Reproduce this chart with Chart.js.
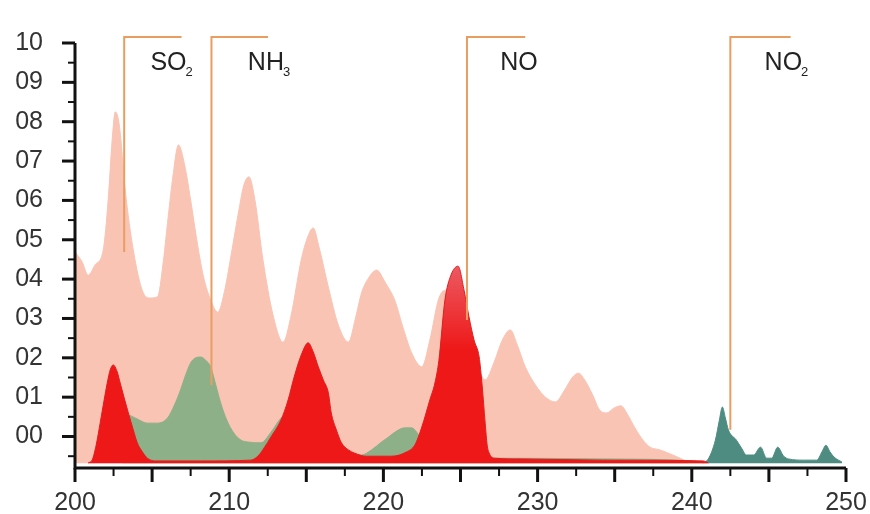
<!DOCTYPE html>
<html>
<head>
<meta charset="utf-8">
<script src="https://cdn.jsdelivr.net/npm/chart.js@4.4.1/dist/chart.umd.min.js"></script>
<style>
  html, body { margin: 0; padding: 0; background: #fff; }
  #wrap { width: 870px; height: 514px; }
</style>
</head>
<body>
<div id="wrap"><canvas id="chart"></canvas></div>
<script>
// wavelength (nm) / absorbance
const so2X = [200.0, 200.46, 200.85, 201.30, 201.83, 202.15, 202.41, 202.61, 202.87, 203.26, 203.78, 204.43, 204.89, 205.35, 205.74, 206.00, 206.32, 206.71, 207.11, 207.50, 207.95, 208.34, 208.80, 209.26, 209.71, 210.10, 210.63, 210.95, 211.28, 211.67, 212.19, 212.84, 213.49, 214.02, 214.67, 215.06, 215.45, 215.84, 216.43, 217.08, 217.73, 218.19, 218.58, 219.04, 219.56, 220.14, 220.73, 221.32, 221.84, 222.49, 223.01, 223.60, 224.12, 224.77, 225.42, 226.08, 226.60, 227.18, 227.71, 228.23, 228.68, 229.20, 229.86, 230.51, 231.16, 231.75, 232.27, 232.66, 233.05, 233.57, 234.03, 234.49, 234.94, 235.40, 235.85, 236.31, 236.83, 237.29, 237.94, 238.59, 239.24, 239.77];
const so2Y = [4.69, 4.44, 4.10, 4.36, 4.74, 6.01, 7.54, 8.25, 7.92, 6.26, 4.74, 3.65, 3.52, 3.55, 4.49, 5.43, 6.52, 7.41, 6.90, 6.01, 4.87, 4.05, 3.47, 3.16, 3.72, 4.56, 5.76, 6.39, 6.60, 6.01, 4.49, 3.09, 2.40, 3.09, 4.49, 5.04, 5.30, 4.79, 3.80, 2.83, 2.40, 3.01, 3.65, 4.03, 4.23, 3.90, 3.47, 2.71, 2.12, 1.77, 2.45, 3.52, 3.72, 3.47, 2.71, 1.82, 1.44, 1.89, 2.45, 2.71, 2.33, 1.77, 1.31, 1.00, 0.88, 1.18, 1.51, 1.61, 1.44, 1.06, 0.67, 0.60, 0.72, 0.78, 0.55, 0.22, -0.09, -0.27, -0.34, -0.44, -0.55, -0.65];

const nh3X = [203.06, 203.39, 203.91, 204.69, 205.35, 206.00, 206.45, 206.84, 207.17, 207.50, 207.82, 208.15, 208.47, 208.80, 209.13, 209.45, 209.84, 210.30, 210.76, 211.21, 212.06, 212.71, 213.36, 214.02, 214.67, 215.97, 217.28, 217.93, 218.58, 219.23, 219.88, 220.34, 220.86, 221.38, 221.84, 222.16, 222.49, 223.14, 223.79, 227.05, 234.22, 240.09, 240.74];
const nh3Y = [-0.09, 0.55, 0.47, 0.34, 0.34, 0.47, 0.80, 1.18, 1.56, 1.87, 2.00, 2.02, 1.94, 1.77, 1.31, 0.85, 0.42, 0.09, -0.09, -0.14, -0.16, 0.11, 0.47, 0.67, 0.42, -0.09, -0.39, -0.47, -0.47, -0.34, -0.14, -0.01, 0.14, 0.22, 0.22, 0.11, -0.09, -0.47, -0.60, -0.55, -0.57, -0.62, -0.67];

const noX = [200.85, 201.11, 201.37, 201.63, 201.89, 202.09, 202.28, 202.48, 202.74, 202.93, 203.19, 203.46, 203.78, 204.04, 204.37, 204.69, 205.22, 208.15, 211.41, 211.93, 212.26, 212.71, 213.36, 213.82, 214.21, 214.67, 215.12, 215.45, 215.78, 216.10, 216.43, 216.62, 216.95, 217.28, 217.73, 218.12, 218.90, 220.53, 221.51, 222.03, 222.49, 223.01, 223.34, 223.60, 223.99, 224.38, 224.84, 225.23, 225.55, 225.88, 226.21, 226.40, 226.60, 226.73, 226.86, 227.18, 229.01, 234.22, 240.74, 241.07];
const noY = [-0.67, -0.60, -0.22, 0.34, 0.93, 1.36, 1.69, 1.82, 1.64, 1.36, 0.98, 0.60, 0.17, -0.16, -0.39, -0.55, -0.62, -0.62, -0.60, -0.47, -0.29, -0.01, 0.42, 0.93, 1.51, 2.07, 2.38, 2.15, 1.77, 1.44, 1.11, 0.60, 0.17, -0.16, -0.34, -0.42, -0.50, -0.50, -0.39, -0.22, 0.24, 0.93, 1.36, 1.94, 3.47, 4.10, 4.33, 3.72, 3.04, 2.45, 2.02, 1.31, 0.34, -0.22, -0.42, -0.55, -0.57, -0.60, -0.62, -0.67];

const no2X = [240.74, 241.07, 241.53, 241.79, 241.98, 242.18, 242.37, 242.89, 243.22, 243.55, 244.00, 244.46, 244.85, 245.18, 245.57, 245.96, 246.28, 247.26, 248.11, 248.44, 248.70, 248.96, 249.22, 249.74];
const no2Y = [-0.67, -0.57, -0.09, 0.42, 0.75, 0.47, 0.17, -0.09, -0.29, -0.47, -0.47, -0.27, -0.55, -0.55, -0.27, -0.50, -0.57, -0.60, -0.60, -0.39, -0.22, -0.39, -0.52, -0.65];

// gas markers (bracket lines with names)
const markerNames = ['SO', 'NH', 'NO', 'NO'];
const markerSubs = ['2', '3', '', '2'];
const markerX = [203.19, 208.85, 225.42, 242.50];
const markerBottom = [4.69, 1.31, 2.96, 0.17];
const markerTop = 10.15;
const markerLen = [3.72, 3.67, 3.78, 3.91];
const markerTextX = [204.89, 211.21, 227.57, 244.72];
const markerTextY = 9.31;

const yTickValues = [0, 1, 2, 3, 4, 5, 6, 7, 8, 9, 10];
const yTickLabels = ['00', '01', '02', '03', '04', '05', '06', '07', '08', '09', '10'];
const xTickValues = [200, 210, 220, 230, 240, 250];

const baseLine = -0.68;
const tickFont = '"Liberation Sans", Arial, sans-serif';

const pts = (xs, ys) => xs.map((x, i) => ({ x: x, y: ys[i] }));

const area = (label, xs, ys, color, order) => ({
  label: label,
  data: pts(xs, ys),
  backgroundColor: color,
  borderColor: color,
  borderWidth: 1,
  pointRadius: 0,
  cubicInterpolationMode: 'monotone',
  fill: { value: baseLine },
  order: order
});

// red NO fill gets pinker towards the tall peak
const noColor = (context) => {
  const chart = context.chart;
  if (!chart.chartArea) return 'rgb(238,24,24)';
  const y = chart.scales.y;
  const g = chart.ctx.createLinearGradient(0, y.getPixelForValue(4.4), 0, y.getPixelForValue(2.2));
  g.addColorStop(0, 'rgb(236,92,100)');
  g.addColorStop(1, 'rgb(238,24,24)');
  return g;
};

const datasets = [
  area('SO2', so2X, so2Y, 'rgb(249,196,180)', 4),
  area('NH3', nh3X, nh3Y, 'rgb(142,176,136)', 3),
  area('NO', noX, noY, 'rgb(238,24,24)', 2),
  area('NO2', no2X, no2Y, 'rgb(78,140,130)', 2)
];
datasets[2].backgroundColor = noColor;
datasets[2].borderColor = 'rgb(225,30,30)';

markerX.forEach((mx, i) => {
  datasets.push({
    label: 'marker' + i,
    data: [{ x: mx, y: markerBottom[i] }, { x: mx, y: markerTop }, { x: mx + markerLen[i], y: markerTop }],
    borderColor: 'rgb(232,158,96)',
    borderWidth: 2,
    pointRadius: 0,
    fill: false,
    clip: false,
    order: 0
  });
});

const axisDecor = {
  id: 'axisDecor',
  afterDraw(chart) {
    const { ctx, chartArea } = chart;
    const x = chart.scales.x, y = chart.scales.y;
    ctx.save();
    ctx.strokeStyle = '#111';
    ctx.lineCap = 'butt';
    // x ticks, every 2.5 nm
    for (let v = 200; v <= 250; v += 2.5) {
      const px = x.getPixelForValue(v);
      const major = v % 5 === 0;
      ctx.lineWidth = major ? 3 : 2;
      ctx.beginPath();
      ctx.moveTo(px, chartArea.bottom);
      ctx.lineTo(px, chartArea.bottom + (major ? 14 : 8));
      ctx.stroke();
    }
    // y ticks, every half step
    for (let v = -0.5; v <= 10; v += 0.5) {
      const py = y.getPixelForValue(v);
      const major = Number.isInteger(v);
      ctx.lineWidth = major ? 3 : 2;
      ctx.beginPath();
      ctx.moveTo(chartArea.left, py);
      ctx.lineTo(chartArea.left - (major ? 13 : 7), py);
      ctx.stroke();
    }
    // axis lines
    ctx.lineWidth = 3;
    ctx.beginPath();
    ctx.moveTo(chartArea.left, y.getPixelForValue(10));
    ctx.lineTo(chartArea.left, chartArea.bottom);
    ctx.lineTo(chartArea.right, chartArea.bottom);
    ctx.stroke();

    // gas names
    ctx.fillStyle = '#222';
    ctx.textBaseline = 'alphabetic';
    markerNames.forEach((name, i) => {
      const px = x.getPixelForValue(markerTextX[i]);
      const py = y.getPixelForValue(markerTextY);
      ctx.font = '25px "Liberation Sans", Arial, sans-serif';
      ctx.fillText(name, px, py);
      if (markerSubs[i]) {
        const w = ctx.measureText(name).width;
        ctx.font = '13px "Liberation Sans", Arial, sans-serif';
        ctx.fillText(markerSubs[i], px + w - 1, py + 6);
      }
    });
    ctx.restore();
  }
};

new Chart(document.getElementById('chart'), {
  type: 'line',
  data: { datasets: datasets },
  options: {
    responsive: true,
    maintainAspectRatio: false,
    animation: false,
    layout: { padding: { top: 43, right: 24, left: 0, bottom: 0 } },
    plugins: {
      legend: { display: false },
      tooltip: { enabled: false }
    },
    scales: {
      x: {
        type: 'linear',
        min: 200,
        max: 250,
        afterBuildTicks: (scale) => { scale.ticks = xTickValues.map(v => ({ value: v })); },
        afterFit: (scale) => { scale.height = 46; scale.paddingLeft = 0; scale.paddingRight = 0; },
        grid: { display: false },
        border: { display: false },
        ticks: {
          color: '#333',
          padding: 12,
          maxRotation: 0,
          font: { family: tickFont, size: 25 }
        }
      },
      y: {
        min: -0.8,
        max: 10,
        afterBuildTicks: (scale) => { scale.ticks = yTickValues.map(v => ({ value: v })); },
        afterFit: (scale) => { scale.width = 75; scale.paddingTop = 0; scale.paddingBottom = 0; },
        grid: { display: false },
        border: { display: false },
        ticks: {
          color: '#333',
          padding: 24,
          font: { family: tickFont, size: 25 },
          callback: (value) => yTickLabels[Math.round(value)]
        }
      }
    }
  },
  plugins: [axisDecor]
});
</script>
</body>
</html>
